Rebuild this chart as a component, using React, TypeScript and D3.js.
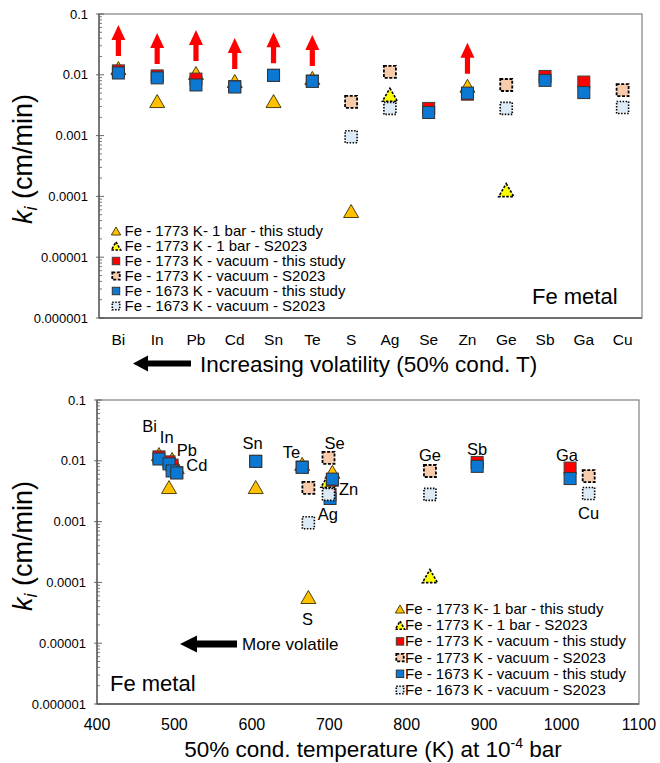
import React from "react";
import * as d3 from "d3";

// ---------- DATA ----------
const elements = ["Bi", "In", "Pb", "Cd", "Sn", "Te", "S", "Ag", "Se", "Zn", "Ge", "Sb", "Ga", "Cu"];
// 50% condensation temperature (K) at 1e-4 bar
const condTemp = [480, 493, 497, 503, 605, 665, 673, 699, 701, 704, 830, 891, 1011, 1035];

const fe1773Bar = [0.0129, 0.0037, 0.0107, 0.0079, 0.0037, 0.0089, 0.0000575, null, null, 0.0066, null, null, null, null];
const fe1773BarS2023 = [null, null, null, null, null, null, null, 0.0047, null, null, 0.000127, null, null, null];
const fe1773Vac = [0.0116, 0.0096, 0.0085, 0.0064, 0.0098, 0.0079, null, null, 0.0028, 0.0048, null, 0.0094, 0.0076, null];
const fe1773VacS2023 = [null, null, null, null, null, null, 0.0036, 0.0112, null, null, 0.0068, null, null, 0.0056];
const fe1673Vac = [0.0107, 0.0089, 0.0068, 0.0063, 0.0098, 0.0078, null, null, 0.0024, 0.005, null, 0.0081, 0.0051, null];
const fe1673VacS2023 = [null, null, null, null, null, null, 0.00096, 0.0028, null, null, 0.0028, null, null, 0.0029];

// lower-limit (red arrow) flags in the top panel
const lowerLimit = [true, true, true, true, true, true, false, false, false, true, false, false, false, false];

const seriesLabels = [
  "Fe - 1773 K- 1 bar - this study",
  "Fe - 1773 K - 1 bar - S2023",
  "Fe - 1773 K - vacuum - this study",
  "Fe - 1773 K - vacuum - S2023",
  "Fe - 1673 K - vacuum - this study",
  "Fe - 1673 K - vacuum - S2023",
];

const yTickValues = [0.1, 0.01, 0.001, 0.0001, 0.00001, 0.000001];
const yTickLabels = ["0.1", "0.01", "0.001", "0.0001", "0.00001", "0.000001"];
const tempTicks = [400, 500, 600, 700, 800, 900, 1000, 1100];

// element labels in the bottom panel (data coordinates: K, cm/min)
const labelText = ["Bi", "In", "Pb", "Cd", "Sn", "Te", "Se", "Zn", "Ag", "Ge", "Sb", "Ga", "Cu", "S"];
const labelTemp = [468, 490, 516, 529, 601, 651, 707, 725, 698, 830, 891, 1007, 1035, 672];
const labelK = [0.0298, 0.0196, 0.012, 0.0068, 0.0156, 0.0111, 0.0156, 0.00274, 0.00106, 0.0099, 0.01245, 0.0099, 0.0011, 0.00002];

// ---------- STYLES ----------
const FONT = "Arial, 'Liberation Sans', Helvetica, sans-serif";
const seriesData = [fe1773Bar, fe1773BarS2023, fe1773Vac, fe1773VacS2023, fe1673Vac, fe1673VacS2023];
const seriesStyle = [
  { kind: "tri", fill: "#FFC000", stroke: "#3a3000", dash: undefined, sw: 0.9 },
  { kind: "tri", fill: "#FFFF00", stroke: "#000", dash: "2.5,1.5", sw: 1.6 },
  { kind: "sq", fill: "#FF0000", stroke: "#404040", dash: undefined, sw: 1 },
  { kind: "sq", fill: "#F8CBAD", stroke: "#000", dash: "3,1.6", sw: 1.8 },
  { kind: "sq", fill: "#0B78D4", stroke: "#333", dash: undefined, sw: 1 },
  { kind: "sq", fill: "#DDEBF7", stroke: "#000", dash: "1.5,1.5", sw: 1.6 },
];

function Marker({ st, x, y, scale = 1 }: any) {
  if (st.kind === "tri") {
    const w = 7.5 * scale, h = 6.5 * scale;
    return (
      <path
        d={`M${x},${y - h}L${x + w},${y + h}L${x - w},${y + h}Z`}
        fill={st.fill}
        stroke={st.stroke}
        strokeWidth={st.sw}
        strokeDasharray={st.dash}
      />
    );
  }
  const s = 6 * scale;
  return (
    <rect
      x={x - s}
      y={y - s}
      width={2 * s}
      height={2 * s}
      fill={st.fill}
      stroke={st.stroke}
      strokeWidth={st.sw}
      strokeDasharray={st.dash}
    />
  );
}

function YAxis({ y, left, tickRight }: any) {
  const minors: number[] = [];
  for (let e = -6; e < -1; e++) for (let m = 2; m <= 9; m++) minors.push(m * Math.pow(10, e));
  return (
    <g>
      {minors.map((v, i) => (
        <line key={"m" + i} x1={left} x2={left + 3} y1={y(v)} y2={y(v)} stroke="#595959" strokeWidth={0.8} />
      ))}
      {yTickValues.map((v, i) => (
        <g key={"t" + i}>
          <line x1={left - 3} x2={left + 5} y1={y(v)} y2={y(v)} stroke="#595959" strokeWidth={0.9} />
          <text x={tickRight} y={y(v) + 4.5} textAnchor="end" fontSize={13} fontFamily={FONT} fill="#000">
            {yTickLabels[i]}
          </text>
        </g>
      ))}
    </g>
  );
}

function YTitle({ x, y }: any) {
  return (
    <text transform={`translate(${x},${y}) rotate(-90)`} textAnchor="middle" fontSize={27} fontFamily={FONT} fill="#000">
      <tspan fontStyle="italic">k</tspan>
      <tspan fontStyle="italic" fontSize={18} dy={5}>i</tspan>
      <tspan dy={-5}> (cm/min)</tspan>
    </text>
  );
}

function Legend({ x, y0, dy, textDx }: any) {
  return (
    <g>
      {seriesLabels.map((lab, i) => (
        <g key={i}>
          <Marker st={seriesStyle[i]} x={x} y={y0 + i * dy} scale={0.62} />
          <text x={x + textDx} y={y0 + i * dy + 5} fontSize={15} fontFamily={FONT} fill="#000">
            {lab}
          </text>
        </g>
      ))}
    </g>
  );
}

function BlackArrow({ tipX, tailX, cy, headLen, headH, shaftH }: any) {
  const d = `M${tipX},${cy}L${tipX + headLen},${cy - headH / 2}L${tipX + headLen},${cy - shaftH / 2}L${tailX},${cy - shaftH / 2}L${tailX},${cy + shaftH / 2}L${tipX + headLen},${cy + shaftH / 2}L${tipX + headLen},${cy + headH / 2}Z`;
  return <path d={d} fill="#000" />;
}

export default function App() {
  // ---------- TOP PANEL ----------
  const T = { l: 99, t: 14, r: 642, b: 318 };
  const xBand = d3.scaleBand<string>().domain(elements).range([T.l, T.r]);
  const yTop = d3.scaleLog().domain([1e-6, 0.1]).range([T.b, T.t]);
  const cx = (e: string) => (xBand(e) as number) + xBand.bandwidth() / 2;

  // ---------- BOTTOM PANEL ----------
  const B = { l: 97, t: 400, r: 639, b: 704 };
  const xT = d3.scaleLinear().domain([400, 1100]).range([B.l, B.r]);
  const yBot = d3.scaleLog().domain([1e-6, 0.1]).range([B.b, B.t]);

  const redArrows = elements.map((e, i) => {
    if (!lowerLimit[i]) return null;
    const vals = seriesData.map((s) => s[i]).filter((v) => v != null) as number[];
    const top = yTop(d3.max(vals) as number);
    const bottom = top - 12;
    const x = cx(e);
    const len = 31, head = 15, hw = 7, sw = 2.6;
    const tip = bottom - len;
    const d = `M${x},${tip}L${x + hw},${tip + head}L${x + sw},${tip + head}L${x + sw},${bottom}L${x - sw},${bottom}L${x - sw},${tip + head}L${x - hw},${tip + head}Z`;
    return <path key={e} d={d} fill="#FF0000" />;
  });

  return (
    <svg width={660} height={763} style={{ position: "absolute", left: 0, top: 0, background: "#fff" }}>
      {/* TOP PANEL */}
      <rect x={T.l} y={T.t} width={T.r - T.l} height={T.b - T.t} fill="none" stroke="#808080" strokeWidth={1.2} />
      <line x1={T.l} x2={T.l} y1={T.t} y2={T.b} stroke="#595959" strokeWidth={1.3} />
      <line x1={T.l} x2={T.r} y1={T.b} y2={T.b} stroke="#595959" strokeWidth={1.3} />
      <YAxis y={yTop} left={T.l} tickRight={88} />
      {elements.map((e) => (
        <text key={e} x={cx(e)} y={345} textAnchor="middle" fontSize={15.5} fontFamily={FONT} fill="#000">
          {e}
        </text>
      ))}
      {redArrows}
      {seriesData.map((s, si) =>
        s.map((v, i) =>
          v == null ? null : <Marker key={si + "-" + i} st={seriesStyle[si]} x={cx(elements[i])} y={yTop(v)} />
        )
      )}
      <Legend x={116} y0={231} dy={15} textDx={8.5} />
      <text x={532} y={304} fontSize={22} fontFamily={FONT} fill="#000">Fe metal</text>
      <YTitle x={32} y={159} />
      <BlackArrow tipX={133} tailX={191} cy={363.5} headLen={15} headH={16} shaftH={6} />
      <text x={200} y={372} fontSize={22.5} fontFamily={FONT} fill="#000">Increasing volatility (50% cond. T)</text>

      {/* BOTTOM PANEL */}
      <rect x={B.l} y={B.t} width={B.r - B.l} height={B.b - B.t} fill="none" stroke="#808080" strokeWidth={1.2} />
      <line x1={B.l} x2={B.l} y1={B.t} y2={B.b} stroke="#595959" strokeWidth={1.3} />
      <line x1={B.l} x2={B.r} y1={B.b} y2={B.b} stroke="#595959" strokeWidth={1.3} />
      <YAxis y={yBot} left={B.l} tickRight={86} />
      {tempTicks.map((t) => (
        <text key={t} x={xT(t)} y={730} textAnchor="middle" fontSize={16} fontFamily={FONT} fill="#000">
          {t}
        </text>
      ))}
      {seriesData.map((s, si) =>
        s.map((v, i) =>
          v == null ? null : <Marker key={"b" + si + "-" + i} st={seriesStyle[si]} x={xT(condTemp[i])} y={yBot(v)} />
        )
      )}
      {labelText.map((t, i) => (
        <text key={"l" + i} x={xT(labelTemp[i])} y={yBot(labelK[i])} textAnchor="middle" fontSize={16.5} fontFamily={FONT} fill="#000">
          {t}
        </text>
      ))}
      <Legend x={400} y0={609} dy={16.2} textDx={5} />
      <text x={110} y={691} fontSize={22} fontFamily={FONT} fill="#000">Fe metal</text>
      <YTitle x={32} y={546} />
      <BlackArrow tipX={180} tailX={237} cy={644} headLen={17} headH={17} shaftH={7} />
      <text x={242} y={650} fontSize={17} fontFamily={FONT} fill="#000">More volatile</text>
      <text x={373} y={757} textAnchor="middle" fontSize={22.5} fontFamily={FONT} fill="#000">
        50% cond. temperature (K) at 10
        <tspan fontSize={14} dy={-9}>-4</tspan>
        <tspan dy={9}> bar</tspan>
      </text>
    </svg>
  );
}
